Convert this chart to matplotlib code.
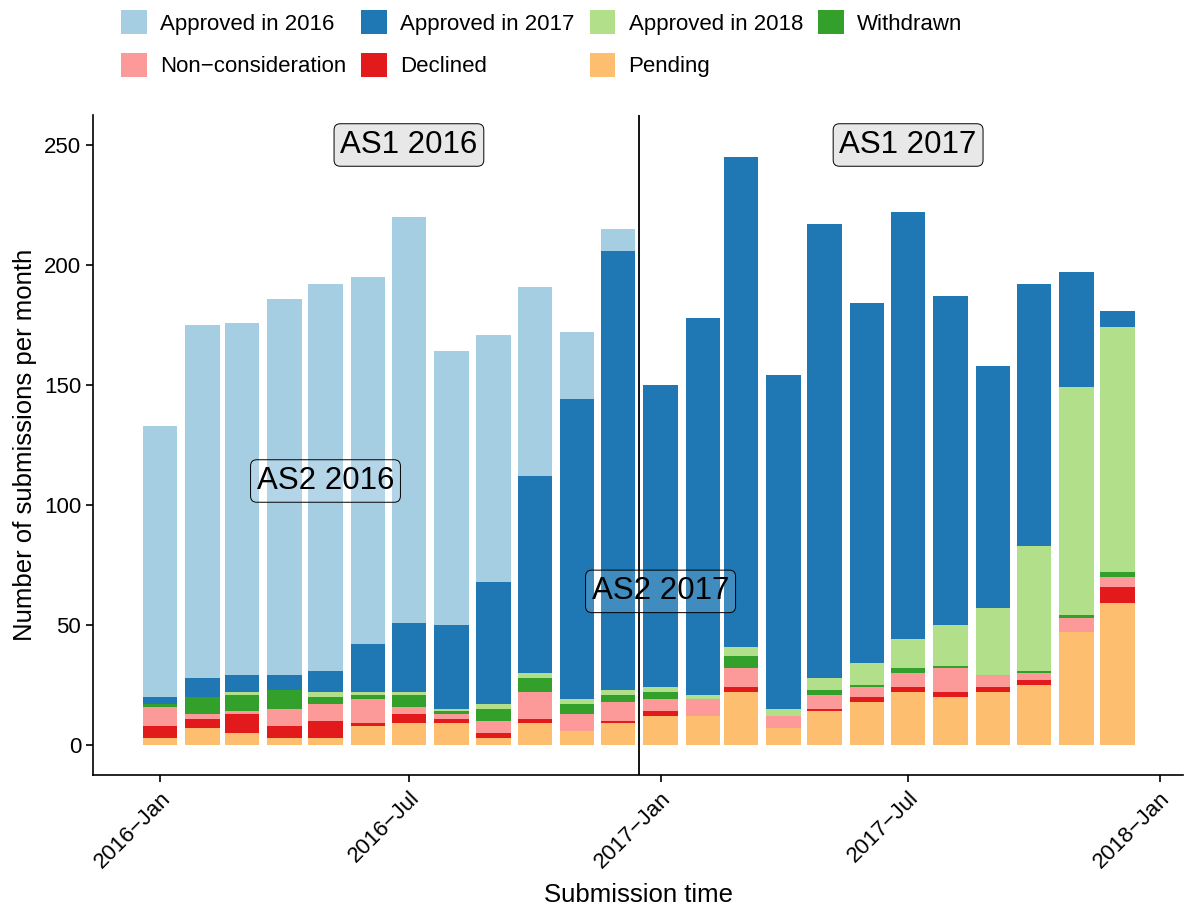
import numpy as np
import matplotlib
matplotlib.use('Agg')
import matplotlib.pyplot as plt
import matplotlib.dates as mdates
from datetime import datetime

plt.rcParams['font.family'] = ['Liberation Sans', 'DejaVu Sans']

# monthly submissions, Jan 2016 .. Dec 2017
months = [datetime(2016 + i // 12, i % 12 + 1, 1) for i in range(24)]

pending      = [3, 7, 5, 3, 3, 8, 9, 9, 3, 9, 6, 9,
                12, 12, 22, 7, 14, 18, 22, 20, 22, 25, 47, 59]
declined     = [5, 4, 8, 5, 7, 1, 4, 2, 2, 2, 0, 1,
                2, 0, 2, 0, 1, 2, 2, 2, 2, 2, 0, 7]
noncons      = [8, 2, 1, 7, 7, 10, 3, 2, 5, 11, 7, 8,
                5, 7, 8, 5, 6, 4, 6, 10, 5, 3, 6, 4]
withdrawn    = [1, 7, 7, 8, 3, 2, 5, 1, 5, 6, 4, 3,
                3, 0, 5, 0, 2, 1, 2, 1, 0, 1, 1, 2]
approved2018 = [0, 0, 1, 0, 2, 1, 1, 1, 2, 2, 2, 2,
                2, 2, 4, 3, 5, 9, 12, 17, 28, 52, 95, 102]
approved2017 = [3, 8, 7, 6, 9, 20, 29, 35, 51, 82, 125, 183,
                126, 157, 204, 139, 189, 150, 178, 137, 101, 109, 48, 7]
approved2016 = [113, 147, 147, 157, 161, 153, 169, 114, 103, 79, 28, 9,
                0, 0, 0, 0, 0, 0, 0, 0, 0, 0, 0, 0]

series = [
    ('Pending', pending, '#FDBF6F'),
    ('Declined', declined, '#E31A1C'),
    ('Non\u2212consideration', noncons, '#FB9A99'),
    ('Withdrawn', withdrawn, '#33A02C'),
    ('Approved in 2018', approved2018, '#B2DF8A'),
    ('Approved in 2017', approved2017, '#1F78B4'),
    ('Approved in 2016', approved2016, '#A6CEE3'),
]

# period annotations
labels_as1 = ['AS1 2016', 'AS1 2017']
labels_as1_x = [datetime(2016, 7, 1), datetime(2017, 7, 1)]
labels_as1_y = [250, 250]
labels_as2 = ['AS2 2016', 'AS2 2017']
labels_as2_x = [datetime(2016, 5, 1), datetime(2017, 1, 1)]
labels_as2_y = [110, 64]
split_date = datetime(2016, 12, 16, 12)

fig = plt.figure(figsize=(11.84, 9.09), dpi=100)
ax = fig.add_axes([93/1184, 1 - 775/909, (1183 - 93)/1184, (775 - 115)/909])

x = mdates.date2num(months)
bottom = np.zeros(len(months))
handles = {}
for name, vals, col in series:
    vals = np.array(vals, dtype=float)
    b = ax.bar(x, vals, width=25.2, bottom=bottom, color=col, linewidth=0, label=name, zorder=2)
    handles[name] = b
    bottom += vals

ax.axvline(mdates.date2num(split_date), color='black', lw=1.3, zorder=3)

for t, xx, yy in zip(labels_as1, labels_as1_x, labels_as1_y):
    ax.text(mdates.date2num(xx), yy, t, ha='center', va='center', fontsize=22.5, zorder=4,
            bbox=dict(boxstyle='round,pad=0.2,rounding_size=0.2', fc='#e8e8e8', ec='black', lw=0.7))
for t, xx, yy in zip(labels_as2, labels_as2_x, labels_as2_y):
    ax.text(mdates.date2num(xx), yy, t, ha='center', va='center', fontsize=22.5, zorder=4,
            bbox=dict(boxstyle='round,pad=0.2,rounding_size=0.2', fc=(1, 1, 1, 0.15), ec='black', lw=0.7))

ax.set_xlim(mdates.date2num(datetime(2015, 11, 13)), mdates.date2num(datetime(2018, 1, 18)))
ax.set_ylim(-12.5, 262.5)

tick_dates = [datetime(2016, 1, 1), datetime(2016, 7, 1), datetime(2017, 1, 1),
              datetime(2017, 7, 1), datetime(2018, 1, 1)]
ax.set_xticks(mdates.date2num(tick_dates))
ax.set_xticklabels([d.strftime('%Y') + '\u2212' + d.strftime('%b') for d in tick_dates],
                   rotation=45, ha='right', rotation_mode='anchor')
ax.set_yticks([0, 50, 100, 150, 200, 250])

for s in ['top', 'right']:
    ax.spines[s].set_visible(False)
for s in ['left', 'bottom']:
    ax.spines[s].set_linewidth(1.2)
ax.tick_params(axis='both', labelsize=16, length=5, width=1.2, colors='black')
ax.tick_params(axis='x', pad=4)

ax.set_xlabel('Submission time', fontsize=18.5, labelpad=8)
ax.set_ylabel('Number of submissions per month', fontsize=18.5, va='center')
ax.yaxis.set_label_coords(-68/1090, 0.5)

order = ['Approved in 2016', 'Non\u2212consideration', 'Approved in 2017', 'Declined',
         'Approved in 2018', 'Pending', 'Withdrawn']
fig.legend([handles[o] for o in order], order, ncol=4, loc='upper left',
           bbox_to_anchor=(121/1184, 1 - 10/909), frameon=False, fontsize=16,
           handlelength=1.15, handleheight=1.3, handletextpad=0.6,
           columnspacing=0.68, labelspacing=0.82, borderpad=0, borderaxespad=0)

fig.savefig('out.png', dpi=100)
